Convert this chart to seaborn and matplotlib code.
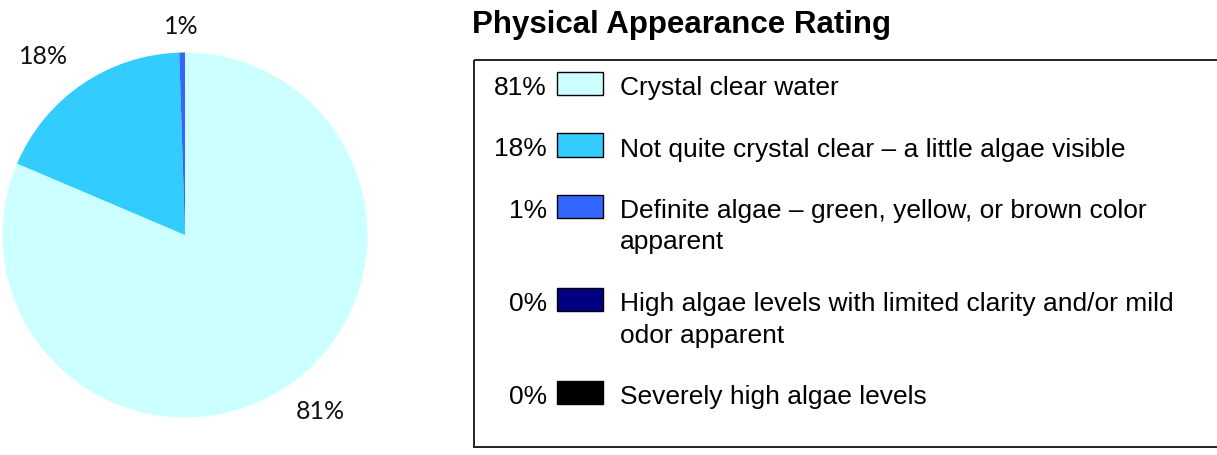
import textwrap
import numpy as np
import matplotlib.pyplot as plt
from matplotlib.patches import Rectangle
import seaborn as sns

# ratings, share of responses (%)
ratings = ["Crystal clear water",
           "Not quite crystal clear \u2013 a little algae visible",
           "Definite algae \u2013 green, yellow, or brown color apparent",
           "High algae levels with limited clarity and/or mild odor apparent",
           "Severely high algae levels"]
shares = [81.4, 18.1, 0.5, 0.0, 0.0]
pct_labels = ["81%", "18%", "1%", "0%", "0%"]
colors = ["#CCFFFF", "#33CCFF", "#3366FF", "#000080", "#000000"]

sns.set_theme(style="white")
plt.rcParams["font.family"] = ["Liberation Sans", "DejaVu Sans"]

W, H = 1217, 455
fig = plt.figure(figsize=(W / 100, H / 100), dpi=100)

# overlay axes in pixel units for the legend panel
ov = fig.add_axes([0, 0, 1, 1])
ov.set_xlim(0, W)
ov.set_ylim(H, 0)
ov.axis("off")

# pie axes: centre (185, 235), radius ~182 px
cx, cy, r = 185, 235, 182.5
ax = fig.add_axes([(cx - r) / W, (H - cy - r) / H, 2 * r / W, 2 * r / H])
wedges, _ = ax.pie(shares, colors=colors, startangle=90, counterclock=False,
                   wedgeprops=dict(linewidth=0))
ax.set_xlim(-1, 1)
ax.set_ylim(-1, 1)
ax.set_aspect("equal")

label_dist = [1.22, 1.25, 1.14, 1.2, 1.2]
label_turn = [4, 4, 0, 0, 0]  # small angular nudge, degrees
for w, lab, v, d, t in zip(wedges, pct_labels, shares, label_dist, label_turn):
    if v <= 0:
        continue
    mid = np.deg2rad((w.theta1 + w.theta2) / 2 + t)
    ax.text(d * np.cos(mid), d * np.sin(mid), lab, ha="center", va="center",
            fontsize=18, family=["Lato", "DejaVu Sans"], color="#111111")

# legend panel
ov.text(472, 33, "Physical Appearance Rating", fontsize=22.5, fontweight="bold",
        ha="left", va="baseline", color="black")
ov.add_patch(Rectangle((474, 60), 800, 387, fill=False, edgecolor="#222222",
                       linewidth=1.4))

line_h = 31.5
gap = 30
base = 95
for name, lab, col in zip(ratings, pct_labels, colors):
    lines = textwrap.wrap(name, width=50)
    ov.text(547, base, lab, fontsize=19, ha="right", va="baseline", color="black")
    ov.add_patch(Rectangle((557, base - 23.5), 46, 23.5, facecolor=col,
                           edgecolor="black", linewidth=1.0))
    for i, ln in enumerate(lines):
        ov.text(620, base + i * line_h, ln, fontsize=19, ha="left",
                va="baseline", color="black")
    base += len(lines) * line_h + gap

fig.savefig("out.png", dpi=100)
